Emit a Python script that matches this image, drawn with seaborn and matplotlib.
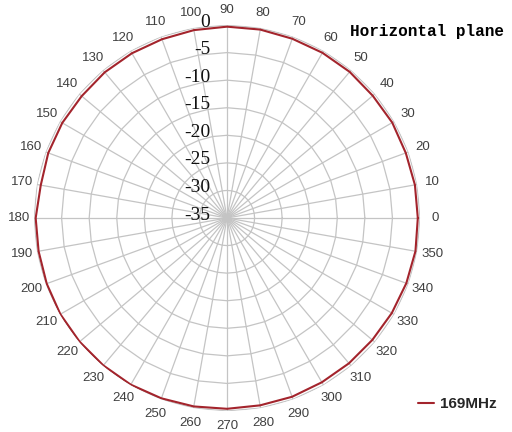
import numpy as np
import pandas as pd
import matplotlib
matplotlib.use("Agg")
import matplotlib.pyplot as plt
import seaborn as sns

# ---- data ----
angles_deg = [0, 10, 20, 30, 40, 50, 60, 70, 80, 90, 100, 110,
              120, 130, 140, 150, 160, 170, 180, 190, 200, 210, 220, 230,
              240, 250, 260, 270, 280, 290, 300, 310, 320, 330, 340, 350]
gain_db = [-0.4, -0.4, -0.5, -0.4, -0.5, -0.4, -0.4, -0.4, -0.3, -0.3, -0.4, -0.5,
           -0.5, -0.5, -0.6, -0.5, -0.5, -0.7, -0.3, -0.3, -0.2, -0.1, -0.1, -0.1,
           -0.1, -0.2, -0.3, -0.4, -0.5, -0.5, -0.6, -0.6, -0.6, -0.5, -0.4, -0.3]
radial_levels = [0, -5, -10, -15, -20, -25, -30, -35]
angle_labels = [str(a) for a in angles_deg]
series_name = "169MHz"
title_text = "Horizontal plane"

sns.set_style("white")
plt.rcParams["font.family"] = ["Liberation Sans", "DejaVu Sans"]

fig = plt.figure(figsize=(5.12, 4.32), dpi=100)
ax = fig.add_axes([0.0664, 0.0486, 0.754, 0.8935], projection="polar")
ax.set_theta_zero_location("E")
ax.set_theta_direction(1)
ax.set_ylim(min(radial_levels), max(radial_levels))
ax.grid(False)
ax.spines["polar"].set_visible(False)
ax.set_yticks([])
ax.set_facecolor("white")

grid_col = "#c4c4c4"
th = np.deg2rad(np.array(angles_deg + [angles_deg[0]]))
# polygonal (radar-style) grid rings
for lv in radial_levels[:-1]:
    ax.plot(th, [lv] * len(th), color=grid_col, lw=0.9, zorder=1)
# spokes
for a in angles_deg:
    ax.plot([np.deg2rad(a)] * 2, [min(radial_levels), max(radial_levels)],
            color=grid_col, lw=0.9, zorder=1)

df = pd.DataFrame({
    "theta": np.deg2rad(np.array(angles_deg + [angles_deg[0]])),
    "gain": gain_db + [gain_db[0]],
})
sns.lineplot(data=df, x="theta", y="gain", sort=False, estimator=None,
             color="#a3242c", lw=1.5, ax=ax, label=series_name, zorder=3)
ax.set_xlabel("")
ax.set_ylabel("")

ax.set_xticks(np.deg2rad(angles_deg))
ax.set_xticklabels(angle_labels)
ax.tick_params(axis="x", pad=4, labelsize=9.5, colors="#404040", length=0)

# radial labels (serif) next to the 90 spoke
for lv in radial_levels:
    ax.annotate(str(lv), xy=(np.pi / 2, lv), xytext=(-17, 3),
                textcoords="offset pixels", ha="right", va="center",
                fontsize=14, family="Liberation Serif", color="#111111",
                zorder=4)

fig.text(0.683, 0.928, title_text, fontsize=11.5, fontweight="bold",
         family="Liberation Mono", color="black", ha="left", va="center")

leg = ax.legend(loc="center left", bbox_to_anchor=(0.79, 0.065),
                bbox_transform=fig.transFigure, frameon=False,
                handlelength=1.0, handletextpad=0.4,
                prop={"weight": "bold", "size": 11})

fig.savefig("out.png", dpi=100)
